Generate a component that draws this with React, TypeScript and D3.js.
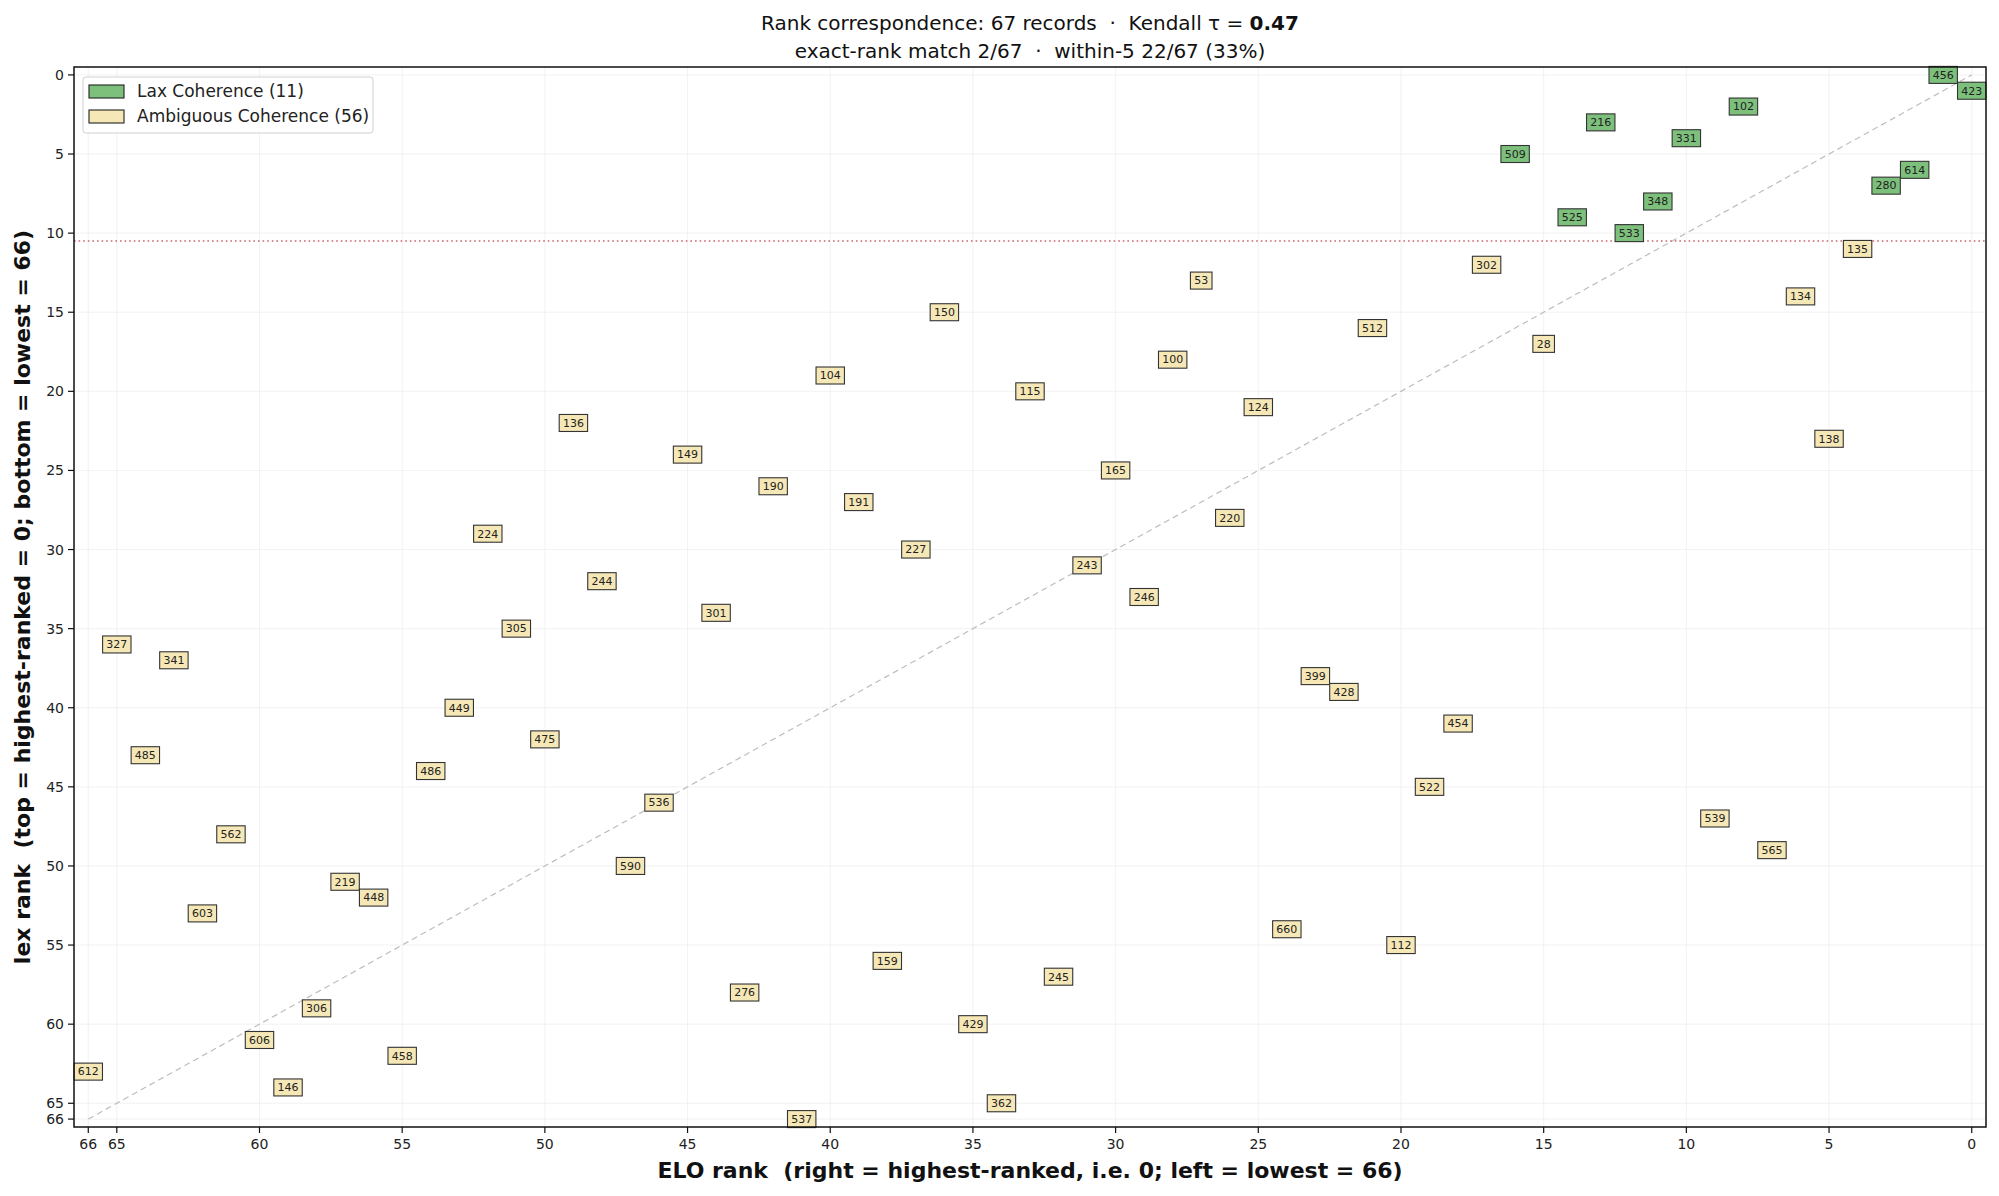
import * as d3 from "d3";

// records ordered by lex rank (0 = highest)
const recordIds = [456, 423, 102, 216, 331, 509, 614, 280, 348, 525, 533, 135, 302, 53, 134, 150, 512, 28, 100, 104, 115, 124, 136, 138, 149, 165, 190, 191, 220, 224, 227, 243, 244, 246, 301, 305, 327, 341, 399, 428, 449, 454, 475, 485, 486, 522, 536, 539, 562, 565, 590, 219, 448, 603, 660, 112, 159, 245, 276, 306, 429, 606, 458, 612, 146, 362, 537];
const lexRanks = [0, 1, 2, 3, 4, 5, 6, 7, 8, 9, 10, 11, 12, 13, 14, 15, 16, 17, 18, 19, 20, 21, 22, 23, 24, 25, 26, 27, 28, 29, 30, 31, 32, 33, 34, 35, 36, 37, 38, 39, 40, 41, 42, 43, 44, 45, 46, 47, 48, 49, 50, 51, 52, 53, 54, 55, 56, 57, 58, 59, 60, 61, 62, 63, 64, 65, 66];
const eloRanks = [1, 0, 8, 13, 10, 16, 2, 3, 11, 14, 12, 4, 17, 27, 6, 36, 21, 15, 28, 40, 33, 25, 49, 5, 45, 30, 42, 39, 26, 52, 37, 31, 48, 29, 44, 51, 65, 63, 23, 22, 53, 18, 50, 64, 54, 19, 46, 9, 61, 7, 47, 57, 56, 62, 24, 20, 38, 32, 43, 58, 35, 60, 55, 66, 59, 34, 41];

const groupNames = ["Lax Coherence", "Ambiguous Coherence"];
const groupColors = ["#7cc07c", "#f6e8b6"];
const laxCount = 11; // top lex ranks that are Lax
const xTicks = [66, 65, 60, 55, 50, 45, 40, 35, 30, 25, 20, 15, 10, 5, 0];
const yTicks = [0, 5, 10, 15, 20, 25, 30, 35, 40, 45, 50, 55, 60, 65, 66];

const W = 1999, H = 1196;
const m = { left: 74, right: 13, top: 67, bottom: 69 };
const FONT = "'DejaVu Sans', sans-serif";
const pre = { whiteSpace: "pre" as const };

export default function App() {
  const x = d3.scaleLinear().domain([66.5, -0.5]).range([m.left, W - m.right]);
  const y = d3.scaleLinear().domain([-0.5, 66.5]).range([m.top, H - m.bottom]);
  const [x0, x1] = x.range();
  const [y0, y1] = y.range();
  const cx = (x0 + x1) / 2;
  const cy = (y0 + y1) / 2;

  const groupOf = (i: number) => (lexRanks[i] < laxCount ? 0 : 1);
  const counts = [0, 0];
  recordIds.forEach((_, i) => counts[groupOf(i)]++);

  const exact = recordIds.filter((_, i) => eloRanks[i] === lexRanks[i]).length;
  const within5 = recordIds.filter((_, i) => Math.abs(eloRanks[i] - lexRanks[i]) <= 5).length;
  const n = recordIds.length;

  const diag = d3.line<number>().x(d => x(d)).y(d => y(d));

  return (
    <svg width={W} height={H} style={{ position: "absolute", left: 0, top: 0, background: "#fff" }} fontFamily={FONT}>
      <text x={cx} y={30} textAnchor="middle" fontSize={20} fill="#111" style={pre}>
        {`Rank correspondence: ${n} records  ·  Kendall τ = `}<tspan fontWeight="bold">0.47</tspan>
      </text>
      <text x={cx} y={58} textAnchor="middle" fontSize={20} fill="#111" style={pre}>
        {`exact-rank match ${exact}/${n}  ·  within-5 ${within5}/${n} (${Math.round((within5 / n) * 100)}%)`}
      </text>

      {/* grid */}
      {xTicks.map(t => (
        <line key={"gx" + t} x1={x(t)} x2={x(t)} y1={y0} y2={y1} stroke="#e6e6e6" strokeWidth={0.8} opacity={0.6} />
      ))}
      {yTicks.map(t => (
        <line key={"gy" + t} x1={x0} x2={x1} y1={y(t)} y2={y(t)} stroke="#e6e6e6" strokeWidth={0.8} opacity={0.6} />
      ))}

      {/* y = x reference */}
      <path d={diag([66, 0])!} fill="none" stroke="#bdbdbd" strokeWidth={1.2} strokeDasharray="6,4" />
      {/* lax cutoff */}
      <line x1={x0} x2={x1} y1={y(laxCount - 0.5)} y2={y(laxCount - 0.5)} stroke="#b5333d" strokeOpacity={0.75} strokeWidth={1.6} strokeDasharray="1.6,3" />

      {/* record labels */}
      {recordIds.map((id, i) => {
        const label = String(id);
        const bw = label.length * 6.8 + 8;
        const bh = 17;
        const px = x(eloRanks[i]);
        const py = y(lexRanks[i]);
        return (
          <g key={id} transform={`translate(${px},${py})`}>
            <rect x={-bw / 2} y={-bh / 2} width={bw} height={bh} fill={groupColors[groupOf(i)]} stroke="#333" strokeWidth={1.1} />
            <text y={3.8} textAnchor="middle" fontSize={11} fill="#222">{label}</text>
          </g>
        );
      })}

      {/* axes frame */}
      <rect x={x0} y={y0} width={x1 - x0} height={y1 - y0} fill="none" stroke="#111" strokeWidth={1.5} />
      {xTicks.map(t => (
        <g key={"tx" + t} transform={`translate(${x(t)},${y1})`}>
          <line y2={6} stroke="#111" strokeWidth={1.2} />
          <text y={22} textAnchor="middle" fontSize={14} fill="#222">{t}</text>
        </g>
      ))}
      {yTicks.map(t => (
        <g key={"ty" + t} transform={`translate(${x0},${y(t)})`}>
          <line x2={-6} stroke="#111" strokeWidth={1.2} />
          <text x={-10} y={5} textAnchor="end" fontSize={14} fill="#222">{t}</text>
        </g>
      ))}

      <text x={cx} y={1178} textAnchor="middle" fontSize={22} fontWeight="bold" fill="#111" style={pre}>
        {"ELO rank  (right = highest-ranked, i.e. 0; left = lowest = 66)"}
      </text>
      <text transform={`translate(30,${cy}) rotate(-90)`} textAnchor="middle" fontSize={22} fontWeight="bold" fill="#111" style={pre}>
        {"lex rank  (top = highest-ranked = 0; bottom = lowest = 66)"}
      </text>

      {/* legend */}
      <g transform={`translate(${x0 + 9},${y0 + 10})`}>
        <rect width={290} height={56} rx={3} fill="#fff" fillOpacity={0.85} stroke="#d0d0d0" strokeWidth={1} />
        {groupNames.map((g, i) => (
          <g key={g} transform={`translate(6,${8 + i * 25})`}>
            <rect width={35} height={13} fill={groupColors[i]} stroke="#222" strokeWidth={1.1} />
            <text x={48} y={12} fontSize={17} fill="#222">{`${g} (${counts[i]})`}</text>
          </g>
        ))}
      </g>
    </svg>
  );
}
